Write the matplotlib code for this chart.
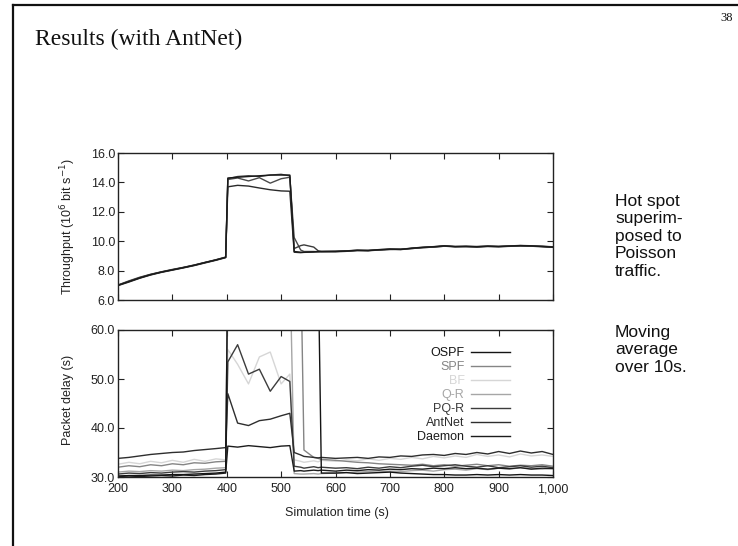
import matplotlib
matplotlib.use("Agg")
import matplotlib.pyplot as plt
from matplotlib.lines import Line2D
from matplotlib.ticker import FuncFormatter, MultipleLocator

plt.rcParams['font.family'] = ['Liberation Sans', 'DejaVu Sans']

# simulation time grid (s)
T = [200, 220, 240, 260, 280, 300, 320, 340, 360, 380, 398,
     402, 420, 440, 460, 480, 500, 516,
     524, 536, 542, 560, 568, 574,
     600, 620, 640, 660, 680, 700, 720, 740, 760, 780, 800,
     820, 840, 860, 880, 900, 920, 940, 960, 980, 1000]

# throughput (10^6 bit/s)
thr_a = [7.00, 7.25, 7.50, 7.72, 7.90, 8.05, 8.20, 8.36, 8.55, 8.72, 8.90,
         14.30, 14.35, 14.40, 14.45, 14.50, 14.50, 14.50,
         9.30, 9.25, 9.25, 9.28, 9.30, 9.30,
         9.30, 9.33, 9.38, 9.36, 9.42, 9.46, 9.44, 9.52, 9.58, 9.62, 9.68,
         9.63, 9.65, 9.62, 9.66, 9.64, 9.67, 9.70, 9.68, 9.64, 9.60]
thr_b = [7.02, 7.30, 7.55, 7.75, 7.92, 8.08, 8.22, 8.38, 8.56, 8.74, 8.92,
         14.20, 14.30, 14.10, 14.32, 13.95, 14.25, 14.35,
         10.25, 9.40, 9.30, 9.30, 9.28, 9.30,
         9.32, 9.35, 9.37, 9.38, 9.40, 9.44, 9.46, 9.50, 9.56, 9.60, 9.66,
         9.64, 9.63, 9.64, 9.65, 9.62, 9.66, 9.68, 9.66, 9.66, 9.62]
thr_c = [6.98, 7.22, 7.48, 7.70, 7.88, 8.03, 8.18, 8.34, 8.52, 8.70, 8.88,
         13.70, 13.80, 13.75, 13.62, 13.50, 13.42, 13.40,
         9.25, 9.22, 9.24, 9.26, 9.28, 9.28,
         9.28, 9.31, 9.36, 9.35, 9.40, 9.44, 9.43, 9.50, 9.56, 9.60, 9.66,
         9.62, 9.63, 9.60, 9.64, 9.63, 9.65, 9.68, 9.66, 9.62, 9.58]
thr_d = [7.01, 7.27, 7.52, 7.74, 7.91, 8.06, 8.21, 8.37, 8.55, 8.73, 8.91,
         14.25, 14.40, 14.45, 14.40, 14.50, 14.55, 14.45,
         9.50, 9.70, 9.75, 9.60, 9.35, 9.30,
         9.31, 9.34, 9.39, 9.37, 9.43, 9.47, 9.45, 9.53, 9.59, 9.63, 9.69,
         9.64, 9.66, 9.63, 9.67, 9.65, 9.68, 9.71, 9.69, 9.65, 9.61]

# packet delay (s), values above 60 are off the chart
ospf = [30.2, 30.3, 30.3, 30.4, 30.4, 30.5, 30.5, 30.6, 30.7, 30.8, 31.0,
        75, 75, 75, 75, 75, 75, 75,
        75, 75, 75, 75, 75, 30.8,
        30.8, 30.9, 30.7, 30.8, 30.9, 31.0, 30.8, 30.7, 30.6, 30.5, 30.5,
        30.4, 30.4, 30.5, 30.4, 30.5, 30.4, 30.5, 30.4, 30.4, 30.3]
spf = [32.0, 32.3, 32.1, 32.5, 32.3, 32.7, 32.5, 32.9, 32.8, 33.1, 33.2,
       75, 75, 75, 75, 75, 75, 75,
       75, 75, 35.5, 34.0, 33.8, 33.6,
       33.4, 33.2, 33.0, 32.9, 32.7, 32.6, 32.5, 32.4, 32.6, 32.3, 32.5,
       32.2, 32.4, 32.6, 32.3, 32.5, 32.2, 32.4, 32.3, 32.5, 32.2]
bf = [32.6, 33.0, 32.7, 33.2, 32.9, 33.4, 33.0, 33.6, 33.2, 33.7, 33.5,
      56.0, 53.0, 49.0, 54.5, 55.5, 49.0, 51.0,
      33.5, 33.2, 33.0, 33.3, 33.1, 33.4,
      33.2, 33.5, 33.3, 33.7, 33.4, 33.8, 33.6, 34.0, 33.7, 34.2, 33.9,
      34.3, 34.0, 34.6, 34.2, 34.5, 34.1, 34.7, 34.3, 34.5, 34.2]
qr = [31.0, 31.2, 31.1, 31.3, 31.2, 31.4, 31.3, 31.5, 31.6, 31.8, 31.9,
      75, 75, 75, 75, 75, 75, 75,
      30.7, 30.6, 30.6, 30.7, 30.6, 30.7,
      30.8, 30.9, 31.0, 31.1, 31.0, 31.2, 31.1, 31.3, 31.4, 31.2, 31.5,
      31.6, 31.4, 31.7, 31.5, 31.8, 31.6, 31.9, 31.7, 31.6, 31.8]
pqr = [30.6, 30.8, 30.7, 30.9, 30.8, 31.0, 31.1, 31.0, 31.2, 31.3, 31.5,
       53.5, 57.0, 51.0, 52.0, 47.5, 50.5, 49.5,
       32.2, 32.0, 31.8, 32.1, 31.9, 32.0,
       31.8, 31.9, 31.7, 32.0, 31.8, 32.1, 31.9, 32.2, 32.4, 32.1, 32.3,
       32.5, 32.2, 32.0, 32.3, 31.9, 32.1, 32.3, 32.0, 32.2, 31.9]
antnet = [33.8, 34.0, 34.3, 34.6, 34.8, 35.0, 35.1, 35.4, 35.6, 35.8, 36.0,
          47.0, 41.0, 40.5, 41.5, 41.8, 42.5, 43.0,
          35.0, 34.5, 34.2, 34.0, 33.9, 34.0,
          33.8, 33.9, 34.0, 33.8, 34.1, 34.0, 34.3, 34.2, 34.5, 34.6, 34.4,
          34.8, 34.6, 35.0, 34.7, 35.2, 34.8, 35.3, 34.9, 35.2, 34.6]
daemon = [30.1, 30.2, 30.1, 30.2, 30.3, 30.2, 30.4, 30.3, 30.5, 30.6, 30.8,
          36.3, 36.1, 36.4, 36.2, 36.0, 36.3, 36.4,
          31.2, 31.3, 31.2, 31.4, 31.3, 31.4,
          31.2, 31.4, 31.3, 31.5, 31.4, 31.6, 31.5, 31.7, 31.6, 31.8, 31.7,
          31.9, 31.7, 31.8, 31.6, 31.8, 31.7, 31.9, 31.6, 31.8, 31.7]

names = ['OSPF', 'SPF', 'BF', 'Q-R', 'PQ-R', 'AntNet', 'Daemon']
delays = [ospf, spf, bf, qr, pqr, antnet, daemon]
colors = ['#141414', '#858585', '#d6d6d6', '#a6a6a6', '#3c3c3c', '#2e2e2e', '#1c1c1c']

W, H = 738, 546
fig = plt.figure(figsize=(W / 100, H / 100), dpi=100)

ax1 = fig.add_axes([118 / W, 1 - 300 / H, 435 / W, 147 / H])
ax2 = fig.add_axes([118 / W, 1 - 477 / H, 435 / W, 147 / H])

for y, c in zip([thr_c, thr_b, thr_d, thr_a], ['#2a2a2a', '#4a4a4a', '#3a3a3a', '#1a1a1a']):
    ax1.plot(T, y, color=c, lw=1.0)

# light lines first so the dark ones sit on top
order = [2, 3, 1, 4, 5, 6, 0]
handles = {}
for i in order:
    ln, = ax2.plot(T, delays[i], color=colors[i], lw=1.0, label=names[i])
    handles[i] = ln

for ax in (ax1, ax2):
    ax.set_xlim(200, 1000)
    ax.xaxis.set_major_locator(MultipleLocator(100))
    ax.tick_params(direction='in', top=True, right=True, length=4, width=0.8,
                   colors='#222222', labelsize=9, pad=2)
    for s in ax.spines.values():
        s.set_color('#222222')
        s.set_linewidth(1.0)
    ax.yaxis.set_major_formatter(FuncFormatter(lambda v, p: '%.1f' % v))

ax1.set_ylim(6, 16)
ax1.yaxis.set_major_locator(MultipleLocator(2))
ax1.tick_params(labelbottom=False)

ax2.set_ylim(30, 60)
ax2.yaxis.set_major_locator(MultipleLocator(10))
ax2.xaxis.set_major_formatter(FuncFormatter(lambda v, p: '{:,.0f}'.format(v)))
ax2.tick_params(axis='x', pad=4.5)

leg = ax2.legend([handles[i] for i in range(7)], names, loc='upper right',
                 bbox_to_anchor=(0.90, 0.885), frameon=False, markerfirst=False,
                 fontsize=9, handlelength=3.1, handletextpad=0.5,
                 labelspacing=0.16, borderaxespad=0, borderpad=0)
for txt, c in zip(leg.get_texts(), colors):
    txt.set_color(c)
    txt.set_ha('right')
leg._legend_box.align = 'right'

fig.text(68 / W, 1 - 227 / H, 'Throughput (10$^6$ bit s$^{-1}$)', rotation=90,
         ha='center', va='center', fontsize=9, color='#222222')
fig.text(68 / W, 1 - 400 / H, 'Packet delay (s)', rotation=90,
         ha='center', va='center', fontsize=9, color='#222222')
fig.text(337 / W, 1 - 513 / H, 'Simulation time (s)', ha='center', va='center',
         fontsize=9, color='#222222')

# slide decorations
fig.text(35 / W, 1 - 39 / H, 'Results (with AntNet)', family='Liberation Serif',
         fontsize=17, ha='left', va='center', color='#111111')
fig.text(733 / W, 1 - 18 / H, '38', family='Liberation Serif', fontsize=9,
         ha='right', va='center', color='#111111')
fig.text(615 / W, 1 - 194 / H, 'Hot spot\nsuperim-\nposed to\nPoisson\ntraffic.',
         fontsize=12.5, ha='left', va='top', linespacing=1.2, color='#111111')
fig.text(615 / W, 1 - 325 / H, 'Moving\naverage\nover 10s.',
         fontsize=12.5, ha='left', va='top', linespacing=1.2, color='#111111')

fig.add_artist(Line2D([13 / W, 1], [1 - 5 / H, 1 - 5 / H], color='#111111', lw=1.6))
fig.add_artist(Line2D([13 / W, 13 / W], [0, 1 - 5 / H], color='#111111', lw=1.6))

fig.savefig('out.png', dpi=100, facecolor='white')
